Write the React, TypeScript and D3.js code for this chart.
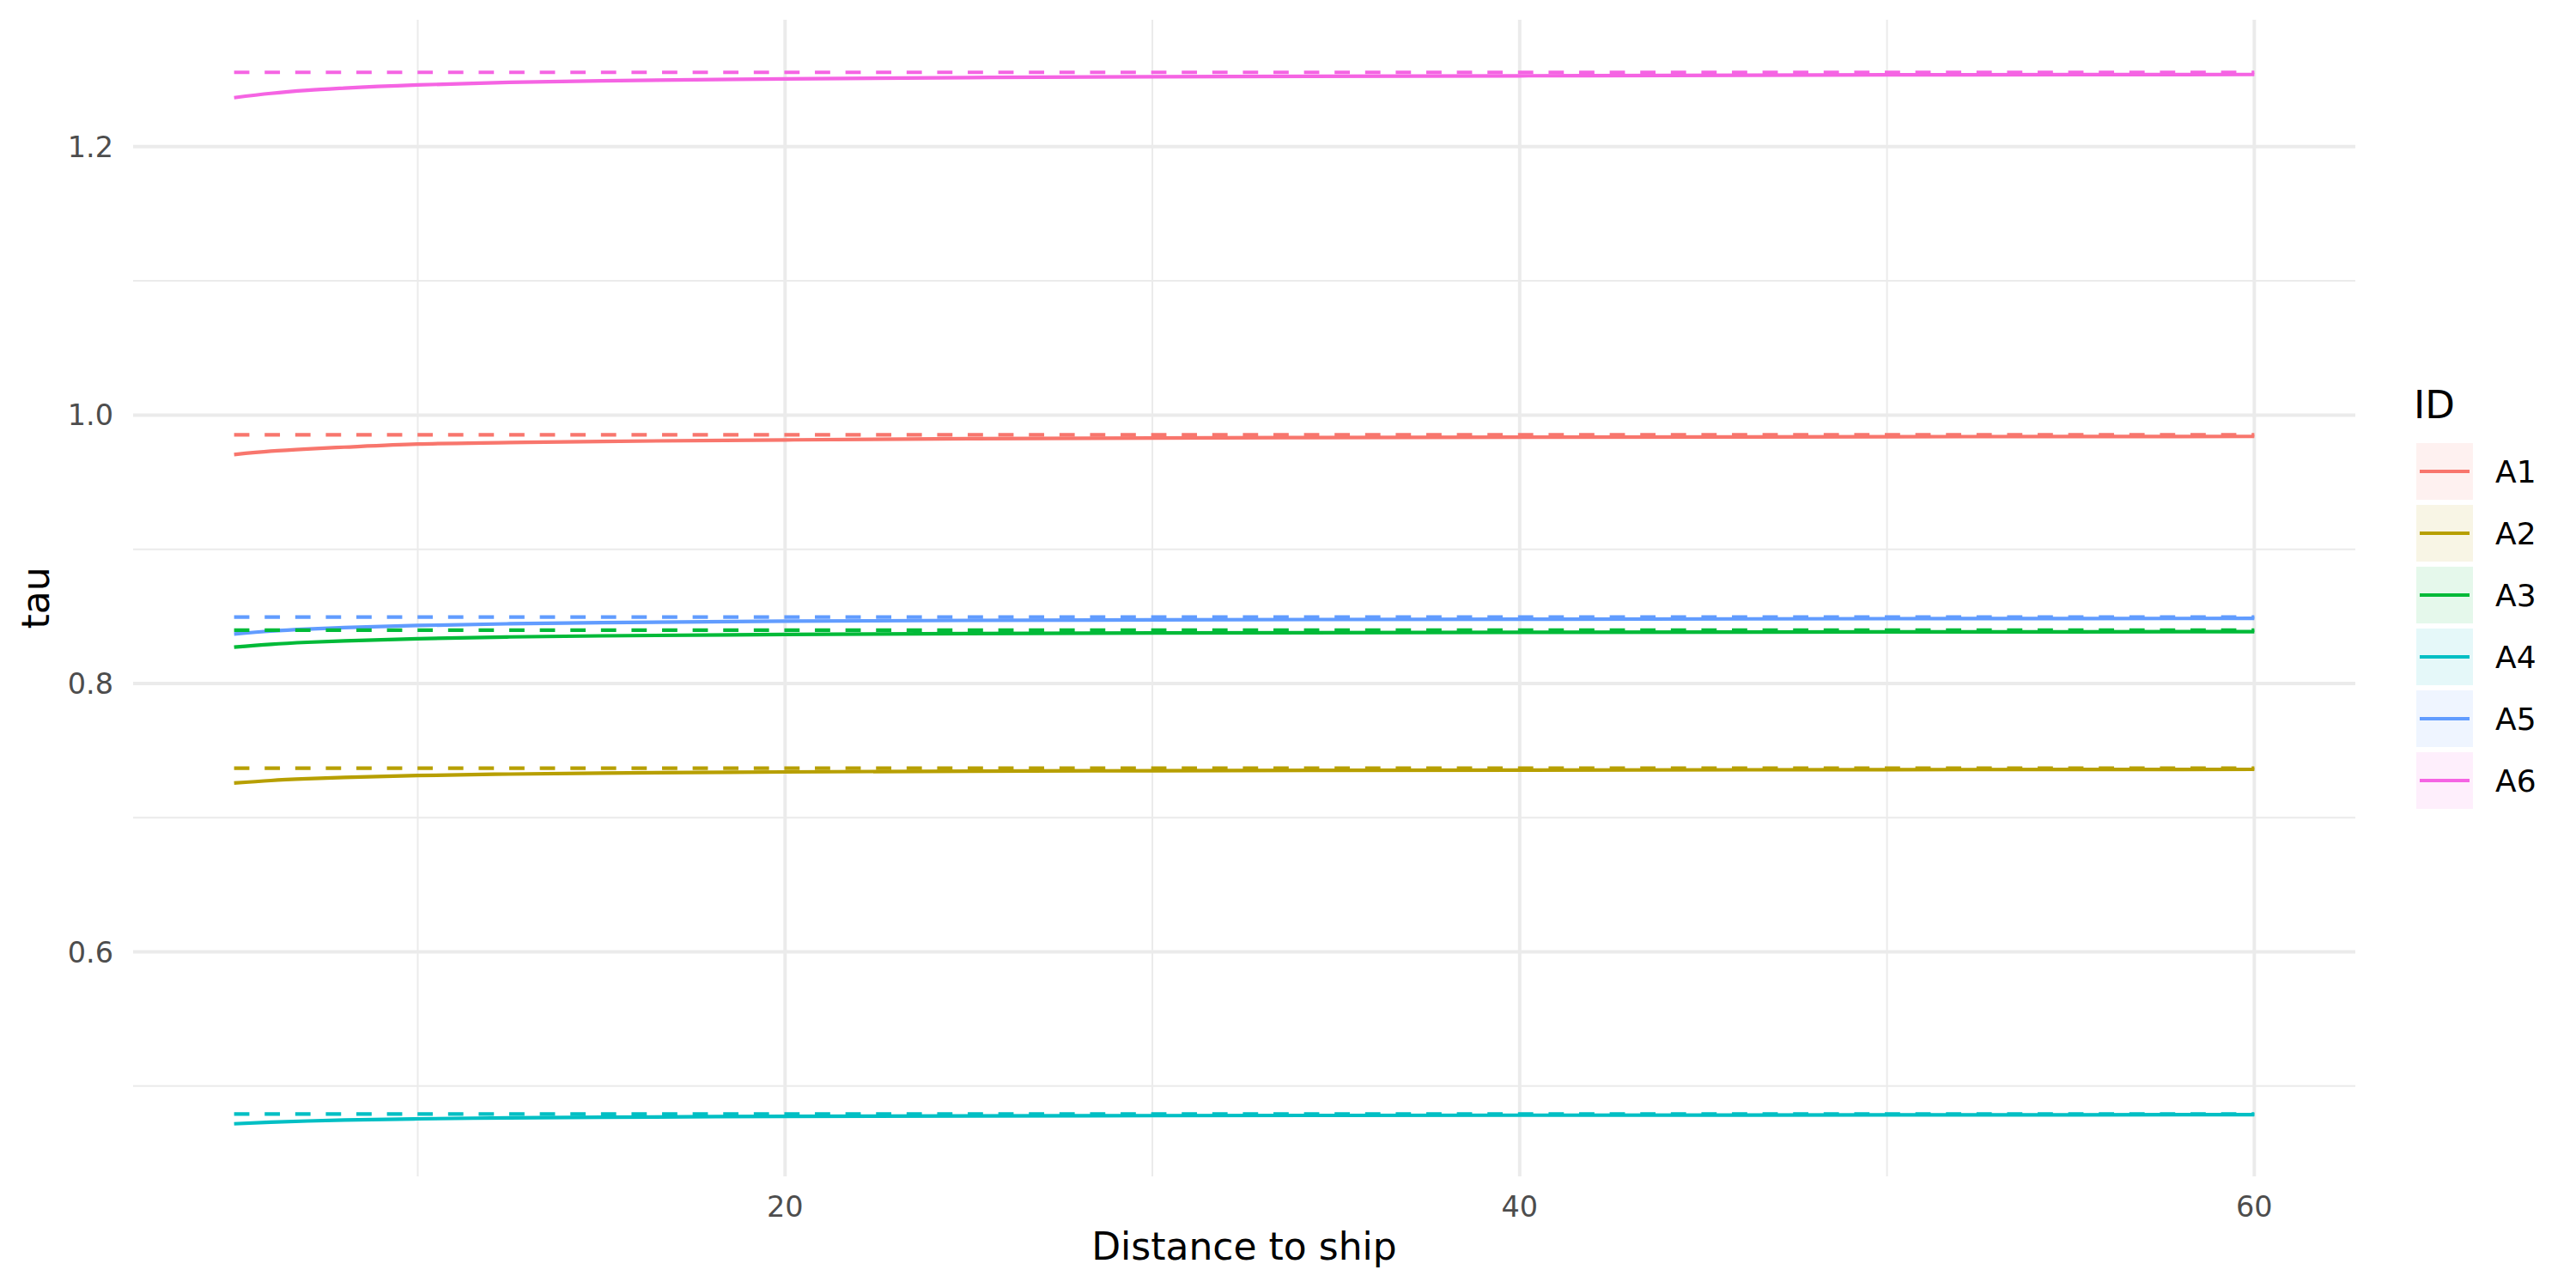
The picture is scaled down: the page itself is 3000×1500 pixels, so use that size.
import React from "react";
import * as d3 from "d3";

// distance to ship (x) at which the curves were read
const distance = [5, 6, 7, 8, 10, 12.5, 15, 20, 25, 30, 40, 50, 60];

const ids = ["A1", "A2", "A3", "A4", "A5", "A6"];
const colors = ["#F8766D", "#B79F00", "#00BA38", "#00BFC4", "#619CFF", "#F564E3"];

// solid curves
const tauA1 = [0.9706, 0.9731, 0.9748, 0.9761, 0.9784, 0.9795, 0.9804, 0.9815, 0.9824, 0.9829, 0.9835, 0.9839, 0.9841];
const tauA2 = [0.7258, 0.7277, 0.729, 0.73, 0.7314, 0.7325, 0.7332, 0.7341, 0.7347, 0.735, 0.7355, 0.7358, 0.736];
const tauA3 = [0.8271, 0.8292, 0.8307, 0.8318, 0.8334, 0.8347, 0.8355, 0.8365, 0.8372, 0.8376, 0.8381, 0.8384, 0.8386];
const tauA4 = [0.4719, 0.4731, 0.474, 0.4747, 0.4756, 0.4763, 0.4768, 0.4774, 0.4778, 0.478, 0.4783, 0.4785, 0.4787];
const tauA5 = [0.8369, 0.839, 0.8405, 0.8416, 0.8432, 0.8445, 0.8453, 0.8464, 0.847, 0.8474, 0.8479, 0.8483, 0.8485];
const tauA6 = [1.2365, 1.2397, 1.242, 1.2436, 1.246, 1.2479, 1.2491, 1.2505, 1.2515, 1.2521, 1.2528, 1.2535, 1.2538];
const curves = [tauA1, tauA2, tauA3, tauA4, tauA5, tauA6];

// dashed reference levels
const tauRef = [0.9853, 0.7369, 0.8397, 0.4792, 0.8495, 1.2554];

const xMajor = [20, 40, 60];
const xMinor = [10, 30, 50];
const yMajor = [0.6, 0.8, 1.0, 1.2];
const yMinor = [0.5, 0.7, 0.9, 1.1];

const W = 3000;
const H = 1500;
const m = { left: 155, right: 2743, top: 23, bottom: 1370 };
const font = "DejaVu Sans, sans-serif";

export default function App() {
  // ggplot-like 5% expansion
  const xExt = d3.extent(distance) as [number, number];
  const xPad = (xExt[1] - xExt[0]) * 0.05;
  const allY = curves.flat().concat(tauRef);
  const yExt = d3.extent(allY) as [number, number];
  const yPad = (yExt[1] - yExt[0]) * 0.05;

  const x = d3.scaleLinear().domain([xExt[0] - xPad, xExt[1] + xPad]).range([m.left, m.right]);
  const y = d3.scaleLinear().domain([yExt[0] - yPad, yExt[1] + yPad]).range([m.bottom, m.top]);

  const line = d3
    .line<[number, number]>()
    .x((d) => x(d[0]))
    .y((d) => y(d[1]))
    .curve(d3.curveMonotoneX);

  // legend box
  const legendX = 2814;
  const legendTop = 516;
  const keyW = 66;
  const keyH = 66;
  const keyStep = 72;

  return (
    <svg width={W} height={H} style={{ position: "absolute", left: 0, top: 0, background: "#fff" }}>
      <rect width={W} height={H} fill="#fff" />
      {/* grid */}
      {yMinor.map((v) => (
        <line key={"ym" + v} x1={m.left} x2={m.right} y1={y(v)} y2={y(v)} stroke="#EBEBEB" strokeWidth={2} />
      ))}
      {xMinor.map((v) => (
        <line key={"xm" + v} x1={x(v)} x2={x(v)} y1={m.top} y2={m.bottom} stroke="#EBEBEB" strokeWidth={2} />
      ))}
      {yMajor.map((v) => (
        <line key={"yM" + v} x1={m.left} x2={m.right} y1={y(v)} y2={y(v)} stroke="#EBEBEB" strokeWidth={4} />
      ))}
      {xMajor.map((v) => (
        <line key={"xM" + v} x1={x(v)} x2={x(v)} y1={m.top} y2={m.bottom} stroke="#EBEBEB" strokeWidth={4} />
      ))}

      {/* solid curves */}
      {curves.map((c, i) => (
        <path
          key={"c" + i}
          d={line(distance.map((d, j) => [d, c[j]] as [number, number])) || ""}
          fill="none"
          stroke={colors[i]}
          strokeWidth={4.2}
        />
      ))}
      {/* dashed levels */}
      {tauRef.map((v, i) => (
        <path
          key={"r" + i}
          d={line([[xExt[0], v], [xExt[1], v]]) || ""}
          fill="none"
          stroke={colors[i]}
          strokeWidth={4.2}
          strokeDasharray="17.8 17.8"
        />
      ))}

      {/* axis labels */}
      {yMajor.map((v) => (
        <text key={"yl" + v} x={132} y={y(v)} dy="0.36em" textAnchor="end" fontFamily={font} fontSize={33.5} fill="#4D4D4D">
          {v.toFixed(1)}
        </text>
      ))}
      {xMajor.map((v) => (
        <text key={"xl" + v} x={x(v)} y={1417} textAnchor="middle" fontFamily={font} fontSize={33.5} fill="#4D4D4D">
          {v}
        </text>
      ))}
      <text x={(m.left + m.right) / 2} y={1467} textAnchor="middle" fontFamily={font} fontSize={44} fill="#000">
        Distance to ship
      </text>
      <text
        transform={`translate(57, ${(m.top + m.bottom) / 2}) rotate(-90)`}
        textAnchor="middle"
        fontFamily={font}
        fontSize={44}
        fill="#000"
      >
        tau
      </text>

      {/* legend */}
      <text x={2811} y={487} fontFamily={font} fontSize={45} fill="#000">
        ID
      </text>
      {ids.map((id, i) => {
        const top = legendTop + i * keyStep;
        const cy = top + keyH / 2;
        return (
          <g key={id}>
            <rect x={legendX} y={top} width={keyW} height={keyH} fill={colors[i]} fillOpacity={0.1} />
            <line x1={legendX + 4} x2={legendX + keyW - 4} y1={cy} y2={cy} stroke={colors[i]} strokeWidth={4.2} />
            <text x={2906} y={cy} dy="0.36em" fontFamily={font} fontSize={36} fill="#000">
              {id}
            </text>
          </g>
        );
      })}
    </svg>
  );
}
